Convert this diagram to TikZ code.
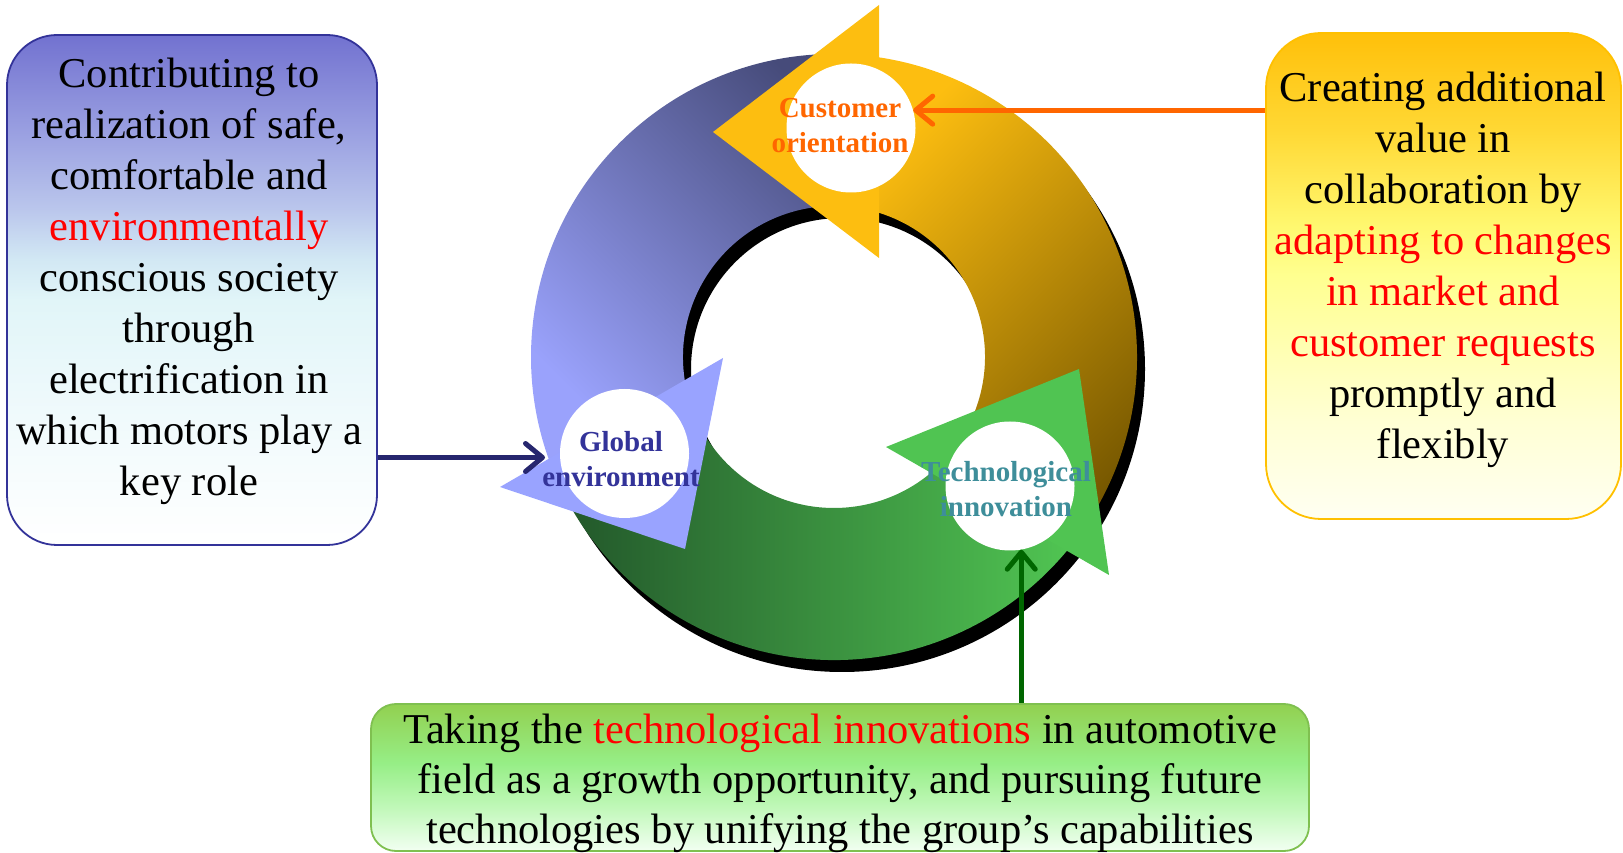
\documentclass[tikz,border=0pt]{standalone}
\usepackage{fontspec}
\setmainfont{Liberation Serif}
\usetikzlibrary{arrows.meta,calc}
\definecolor{bluedark}{HTML}{464B7A}
\definecolor{bluelight}{HTML}{9AA2FC}
\definecolor{bluehead}{HTML}{99A3FF}
\definecolor{yelbright}{HTML}{FDBE10}
\definecolor{yeldark}{HTML}{765700}
\definecolor{greendark}{HTML}{22562A}
\definecolor{greenmid}{HTML}{48B44A}
\definecolor{greenhead}{HTML}{50C452}
\definecolor{custorange}{HTML}{FF6600}
\definecolor{globblue}{HTML}{333399}
\definecolor{techteal}{HTML}{3E8E9A}
\definecolor{navyarrow}{HTML}{26266E}
\definecolor{greenarrow}{HTML}{006600}
\definecolor{rboxline}{HTML}{FFC000}
\definecolor{bboxline}{HTML}{7FC050}
\pgfdeclareverticalshading{lboxshade}{100bp}{%
  color(0bp)=(white); color(25bp)=(white);
  color(37.5bp)=(rgb,255:red,240;green,250;blue,252);
  color(49bp)=(rgb,255:red,225;green,245;blue,248);
  color(53bp)=(rgb,255:red,210;green,232;blue,244);
  color(58bp)=(rgb,255:red,186;green,198;blue,236);
  color(65bp)=(rgb,255:red,156;green,162;blue,226);
  color(75bp)=(rgb,255:red,114;green,114;blue,208);
  color(100bp)=(rgb,255:red,114;green,114;blue,208)}
\pgfdeclareverticalshading{rboxshade}{100bp}{%
  color(0bp)=(rgb,255:red,255;green,255;blue,242);
  color(25bp)=(rgb,255:red,255;green,255;blue,242);
  color(35bp)=(rgb,255:red,255;green,255;blue,212);
  color(40bp)=(rgb,255:red,255;green,255;blue,190);
  color(50bp)=(rgb,255:red,255;green,255;blue,144);
  color(55bp)=(rgb,255:red,255;green,248;blue,112);
  color(65bp)=(rgb,255:red,255;green,216;blue,52);
  color(75bp)=(rgb,255:red,255;green,192;blue,10);
  color(100bp)=(rgb,255:red,255;green,192;blue,10)}
\pgfdeclareverticalshading{bboxshade}{100bp}{%
  color(0bp)=(rgb,255:red,242;green,255;blue,242);
  color(25bp)=(rgb,255:red,242;green,255;blue,242);
  color(40bp)=(rgb,255:red,192;green,248;blue,184);
  color(55bp)=(rgb,255:red,150;green,238;blue,134);
  color(75bp)=(rgb,255:red,146;green,208;blue,80);
  color(100bp)=(rgb,255:red,146;green,208;blue,80)}
\tikzset{
  wcirc/.style={circle, fill=white, minimum size=129pt, inner sep=0pt},
  lbl/.style={font=\bfseries\fontsize{29}{35}\selectfont, align=center, inner sep=0pt},
  btext/.style={font=\fontsize{42.5}{51}\selectfont, align=center, inner sep=0pt},
  panel/.style={line width=1.8pt},
  conn/.style={line width=5pt, -{Straight Barb[length=17pt,width=28pt,round]}}
}
\begin{document}
\begin{tikzpicture}[x=1pt,y=1pt]
\useasboundingbox (0,0) rectangle (1623,852);

% shadow of the ring
\fill[black,even odd rule] (842,483) circle[radius=303] (842,483) circle[radius=151];

% ring segments
\begin{scope}[shift={(834,495)}]
\shade[top color=bluedark, bottom color=bluelight, shading angle=-45]
  (84:303) arc[start angle=84,end angle=200,radius=303] -- (200:151)
  arc[start angle=200,end angle=84,radius=151] -- cycle;
\shade[top color=yelbright, bottom color=yeldark, shading angle=45]
  (-38:303) arc[start angle=-38,end angle=82,radius=303] -- (82:151)
  arc[start angle=82,end angle=-38,radius=151] -- cycle;
\shade[left color=greendark, middle color=greenmid, right color=greenhead]
  (205:303) arc[start angle=205,end angle=320.5,radius=303] -- (320.5:151)
  arc[start angle=320.5,end angle=205,radius=151] -- cycle;
\end{scope}

% arrow heads
\fill[yelbright] (879,847) -- (713,720) -- (879,594) -- cycle;
\fill[greenhead] (886,405) -- (1079,483) -- (1109,277) -- cycle;
\fill[bluehead] (500,365) -- (685,303) -- (723,494) -- cycle;

% white discs
\node[wcirc] (cust) at (851,724) {};
\node[wcirc] (tech) at (1010,366) {};
\node[wcirc] (glob) at (624.5,398.5) {};

% disc labels
\node[lbl, text=custorange] (custlbl) at (840,726.3) {Customer\\orientation};
\node[lbl, text=globblue] (globlbl) at (621,392.8) {Global\\environment};
\node[lbl, text=techteal] (techlbl) at (1006,362.8) {Technological\\innovation};

% panels
\node[panel, draw=globblue, rounded corners=50pt, minimum width=370pt, minimum height=510pt,
  shading=lboxshade] (lbox) at (192,562) {};
\node[panel, draw=rboxline, rounded corners=55pt, minimum width=355pt, minimum height=486pt,
  shading=rboxshade] (rbox) at (1443.5,576) {};
\node[panel, draw=bboxline, rounded corners=25pt, minimum width=938pt, minimum height=147pt,
  shading=bboxshade] (bbox) at (840,74.5) {};

\node[btext] (ltext) at (189,571) {Contributing to\\realization of safe,\\comfortable and\\
  \textcolor{red}{environmentally}\\conscious society\\through\\electrification in\\
  which motors play a\\key role};
\node[btext] (rtext) at (1443,582) {Creating additional\\value in\\collaboration by\\
  \textcolor{red}{adapting to changes}\\\textcolor{red}{in market and}\\
  \textcolor{red}{customer requests}\\promptly and\\flexibly};
\node[btext, font=\fontsize{42.5}{50}\selectfont] (btxt) at (840,69)
  {Taking the \textcolor{red}{technological innovations} in automotive\\
  field as a growth opportunity, and pursuing future\\
  technologies by unifying the group’s capabilities};

% connectors
\coordinate (gin) at (545,394.5);
\draw[conn, navyarrow] (lbox.east |- gin) -- (gin);
\draw[conn, custorange] (rbox.west |- cust.16) -- (cust.16);
\draw[conn, greenarrow] (bbox.north -| tech.-80) -- (tech.-80);
\end{tikzpicture}
\end{document}
